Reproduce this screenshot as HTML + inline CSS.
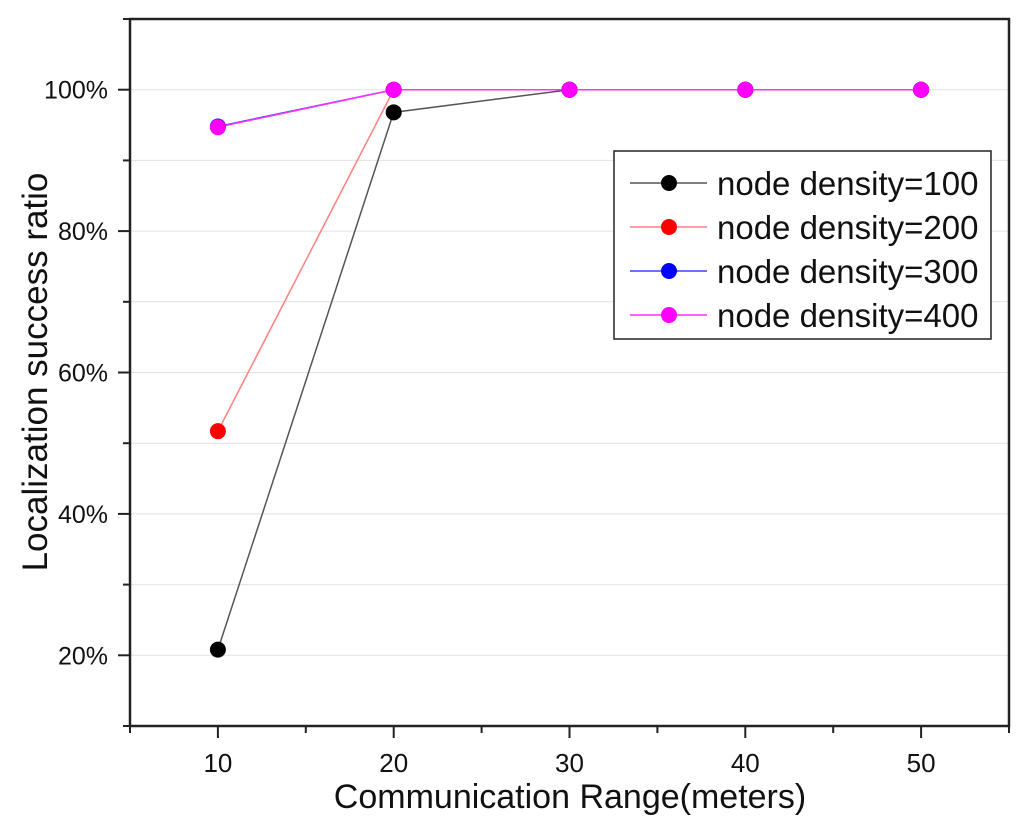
<!DOCTYPE html>
<html><head><meta charset="utf-8"><style>
html,body{margin:0;padding:0;background:#fff;}
svg{display:block;font-family:"Liberation Sans",Arial,sans-serif;}
</style></head><body>
<svg id="chart" width="1024" height="834" viewBox="0 0 1024 834"></svg>
<script>
const categories=[10,20,30,40,50];
const seriesNames=["node density=100","node density=200","node density=300","node density=400"];
const series100=[20.8,96.8,100,100,100];
const series200=[51.7,100,100,100,100];
const series300=[94.8,100,100,100,100];
const series400=[94.7,100,100,100,100];
const yTicks=[20,40,60,80,100];
const xTicks=[10,20,30,40,50];

const NS="http://www.w3.org/2000/svg";
const svg=document.getElementById('chart');
const L=130,R=1009,T=19,B=726;
const xMin=5,xMax=55,yMin=10,yMax=110;
const xs=v=>L+(v-xMin)/(xMax-xMin)*(R-L);
const ys=v=>B-(v-yMin)/(yMax-yMin)*(B-T);
function el(tag,attrs,parent){const e=document.createElementNS(NS,tag);for(const k in attrs)e.setAttribute(k,attrs[k]);(parent||svg).appendChild(e);return e;}

const grid=el('g',{});


for(let v=20;v<=100;v+=10){el('line',{x1:L,x2:R,y1:ys(v),y2:ys(v),stroke:'#e2e2e2','stroke-width':1},grid);}

const ax=el('g',{});


el('rect',{x:L,y:T,width:R-L,height:B-T,fill:'none',stroke:'#222','stroke-width':2.5},ax);
for(let v=10;v<=110;v+=10){const big=v%20===0;el('line',{x1:L,x2:L-(big?12:7),y1:ys(v),y2:ys(v),stroke:'#222','stroke-width':2},ax);}
for(let v=5;v<=55;v+=5){const big=v%10===0;el('line',{x1:xs(v),x2:xs(v),y1:B,y2:B+(big?12:7),stroke:'#222','stroke-width':2},ax);}

yTicks.forEach(v=>{const t=el('text',{x:108,y:ys(v)+9,'text-anchor':'end','font-size':25,fill:'#111'});t.textContent=v+'%';

});
xTicks.forEach(v=>{const t=el('text',{x:xs(v),y:772,'text-anchor':'middle','font-size':26,fill:'#111'});t.textContent=v;

});

const xt=el('text',{x:570,y:808,'text-anchor':'middle','font-size':34,fill:'#111'});xt.textContent='Communication Range(meters)';


const yt=el('text',{x:0,y:0,'text-anchor':'middle','font-size':35,fill:'#111',transform:'translate(47,372) rotate(-90)'});yt.textContent='Localization success ratio';



const allSeries=[series100,series200,series300,series400];
const lineColors=['#555','#ff8080','#4040ff','#ff30ff'];
const dotColors=['#000','#ff0000','#0000ff','#ff00ff'];
allSeries.forEach((s,i)=>{
  const g=el('g',{});
  
  
  el('polyline',{points:s.map((v,j)=>xs(categories[j])+','+ys(v)).join(' '),fill:'none',stroke:lineColors[i],'stroke-width':1.5},g);
  s.forEach((v,j)=>{const c=el('circle',{cx:xs(categories[j]),cy:ys(v),r:8,fill:dotColors[i]},g);
  
  });
});

const lg=el('g',{});


el('rect',{x:614,y:151,width:377,height:188,fill:'#fff',stroke:'#222','stroke-width':1.5},lg);
seriesNames.forEach((n,i)=>{
  const y=183+i*44;
  const e=el('g',{},lg);
  
  
  el('line',{x1:630,x2:707,y1:y,y2:y,stroke:lineColors[i],'stroke-width':1.5},e);
  el('circle',{cx:669,cy:y,r:8,fill:dotColors[i]},e);
  const t=el('text',{x:717,y:y+12,'font-size':33,fill:'#111'},e);t.textContent=n;
});
</script>
</body></html>
